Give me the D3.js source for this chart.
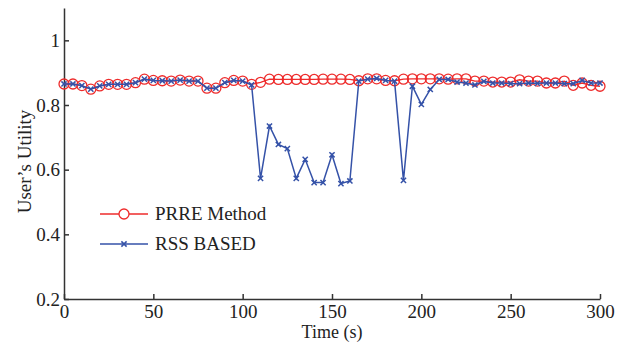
<!DOCTYPE html>
<html lang="en">
  <head>
    <meta charset="utf-8">
    <title>User's Utility</title>
    <style>
      body { margin: 0; background: #fff; }
      svg { display: block; }
    </style>
    <script src="https://d3js.org/d3.v7.min.js"></script>
  </head>
  <body>
    <script>
    // time in seconds, one sample every 5 s
    const times = d3.range(0, 301, 5);

    const prre = [0.865, 0.865, 0.860, 0.849, 0.859, 0.864, 0.864, 0.864, 0.869, 0.880,
      0.876, 0.875, 0.874, 0.877, 0.874, 0.874, 0.852, 0.852, 0.869, 0.876,
      0.874, 0.864, 0.870, 0.880, 0.879, 0.879, 0.879, 0.879, 0.879, 0.880,
      0.880, 0.880, 0.879, 0.875, 0.881, 0.881, 0.876, 0.875, 0.880, 0.881,
      0.881, 0.881, 0.881, 0.880, 0.881, 0.881, 0.874, 0.874, 0.871, 0.871,
      0.871, 0.878, 0.874, 0.874, 0.868, 0.868, 0.874, 0.861, 0.868, 0.861,
      0.858];

    const rss = [0.865, 0.865, 0.860, 0.849, 0.859, 0.864, 0.864, 0.864, 0.869, 0.880,
      0.876, 0.875, 0.874, 0.877, 0.874, 0.874, 0.852, 0.852, 0.869, 0.876,
      0.874, 0.862, 0.573, 0.735, 0.678, 0.665, 0.573, 0.632, 0.560, 0.560,
      0.646, 0.557, 0.565, 0.874, 0.880, 0.882, 0.876, 0.874, 0.567, 0.858,
      0.802, 0.848, 0.879, 0.879, 0.871, 0.868, 0.862, 0.873, 0.868, 0.868,
      0.866, 0.866, 0.868, 0.867, 0.868, 0.868, 0.866, 0.866, 0.876, 0.868,
      0.868];

    const xTicks = [0, 50, 100, 150, 200, 250, 300];
    const yTicks = [0.2, 0.4, 0.6, 0.8, 1];
    const seriesNames = ["PRRE Method", "RSS BASED"];

    const width = 623, height = 345;
    const margin = { top: 8, right: 23, bottom: 46, left: 64 };

    const red = "#ee2b2b", blue = "#3552a8", axisColor = "#333";
    const font = "'Liberation Serif', 'DejaVu Serif', serif";

    const svg = d3.select("body")
      .append("svg")
      .attr("width", width)
      .attr("height", height)
      .attr("font-family", font);

    const x = d3.scaleLinear()
      .domain([0, 300])
      .range([margin.left, width - margin.right]);

    const y = d3.scaleLinear()
      .domain([0.2, 1.1])
      .range([height - margin.bottom, margin.top]);

    // axes, ticks pointing inward
    const xAxis = svg.append("g")
      .attr("transform", `translate(0,${y(0.2)})`)
      .call(d3.axisTop(x).tickValues(xTicks).tickSize(5).tickSizeOuter(0));
    xAxis.attr("font-family", font);
    xAxis.selectAll("text").remove();
    xAxis.selectAll(".tick").append("text")
      .attr("y", 19)
      .attr("text-anchor", "middle")
      .attr("fill", "#222")
      .style("font-family", font)
      .style("font-size", "19px")
      .text(d => d);

    const yAxis = svg.append("g")
      .attr("transform", `translate(${x(0)},0)`)
      .call(d3.axisRight(y).tickValues(yTicks).tickSize(5).tickSizeOuter(0));
    yAxis.attr("font-family", font);
    yAxis.selectAll("text").remove();
    yAxis.selectAll(".tick").append("text")
      .attr("x", -4)
      .attr("dy", "0.32em")
      .attr("text-anchor", "end")
      .attr("fill", "#222")
      .style("font-family", font)
      .style("font-size", "19px")
      .text(d => d3.format("")(d));

    svg.selectAll(".domain, .tick line")
      .attr("stroke", axisColor)
      .attr("stroke-width", 1.5);

    svg.append("text")
      .attr("x", (x(0) + x(300)) / 2)
      .attr("y", 338)
      .attr("text-anchor", "middle")
      .attr("fill", "#222")
      .style("font-family", font)
      .style("font-size", "18px")
      .text("Time (s)");

    svg.append("text")
      .attr("transform", `translate(31,${(y(0.2) + y(1.1)) / 2 + 8}) rotate(-90)`)
      .attr("text-anchor", "middle")
      .attr("fill", "#222")
      .style("font-family", font)
      .style("font-size", "19px")
      .text("User\u2019s Utility");

    const line = (vals) => d3.line()
      .x((d, i) => x(times[i]))
      .y(d => y(d))(vals);

    const crossPath = (cx, cy, s) =>
      `M${cx - s},${cy - s}L${cx + s},${cy + s}M${cx - s},${cy + s}L${cx + s},${cy - s}`;

    // PRRE series
    svg.append("path")
      .attr("d", line(prre))
      .attr("fill", "none")
      .attr("stroke", red)
      .attr("stroke-width", 1.3);

    svg.append("g")
      .selectAll("circle")
      .data(prre)
      .join("circle")
      .attr("cx", (d, i) => x(times[i]))
      .attr("cy", d => y(d))
      .attr("r", 5)
      .attr("fill", "none")
      .attr("stroke", red)
      .attr("stroke-width", 1.3);

    // RSS series
    svg.append("path")
      .attr("d", line(rss))
      .attr("fill", "none")
      .attr("stroke", blue)
      .attr("stroke-width", 1.5);

    svg.append("g")
      .selectAll("path")
      .data(rss)
      .join("path")
      .attr("d", (d, i) => crossPath(x(times[i]), y(d), 2.6))
      .attr("stroke", blue)
      .attr("stroke-width", 1.5);

    // legend
    const legend = svg.append("g");
    const legY = [214, 244];
    const legColors = [red, blue];
    seriesNames.forEach((name, i) => {
      legend.append("line")
        .attr("x1", 100).attr("x2", 148)
        .attr("y1", legY[i]).attr("y2", legY[i])
        .attr("stroke", legColors[i])
        .attr("stroke-width", 1.4);
      if (i === 0) {
        legend.append("circle")
          .attr("cx", 124).attr("cy", legY[i]).attr("r", 5)
          .attr("fill", "#fff")
          .attr("stroke", red).attr("stroke-width", 1.3);
      } else {
        legend.append("path")
          .attr("d", crossPath(124, legY[i], 2.6))
          .attr("stroke", blue).attr("stroke-width", 1.5);
      }
      legend.append("text")
        .attr("x", 155)
        .attr("y", legY[i] + 6)
        .attr("fill", "#222")
        .style("font-family", font)
        .style("font-size", "19px")
        .text(name);
    });
    </script>
  </body>
</html>
